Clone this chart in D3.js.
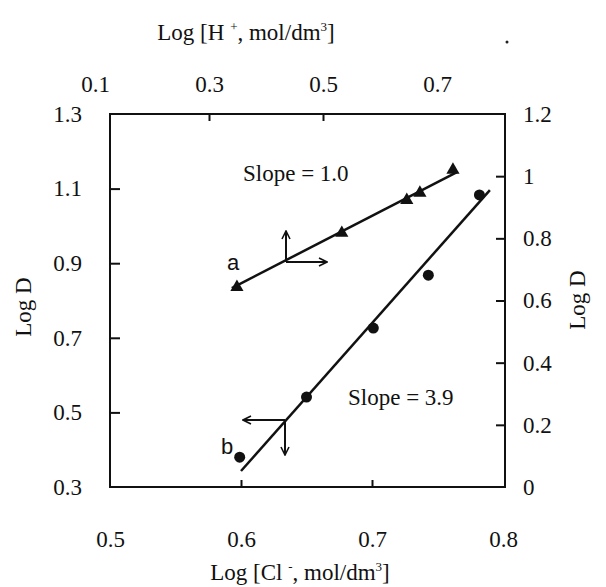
<!DOCTYPE html>
<html><head><meta charset="utf-8">
<script src="https://cdn.jsdelivr.net/npm/d3@7"></script>
<style>body{margin:0;background:#fff}svg{display:block}text{fill:#111}</style>
</head><body>
<svg id="c" width="606" height="587"></svg>
<script>
// Tick values / labels
const bottomTicks = [0.5, 0.6, 0.7, 0.8];
const topTicks = [0.1, 0.3, 0.5, 0.7];
const leftTicks = [0.3, 0.5, 0.7, 0.9, 1.1, 1.3];
const rightTicks = [0, 0.2, 0.4, 0.6, 0.8, 1, 1.2];
// Series a: x = Log[H+] (top axis), y = Log D (right axis)
const aX = [0.349, 0.533, 0.647, 0.670, 0.728];
const aY = [0.643, 0.817, 0.923, 0.946, 1.020];
const aFitX = [0.340, 0.735];
const aFitY = [0.640, 1.013];
// Series b: x = Log[Cl-] (bottom axis), y = Log D (left axis)
const bX = [0.599, 0.650, 0.701, 0.743, 0.782];
const bY = [0.380, 0.541, 0.726, 0.868, 1.083];
const bFitX = [0.600, 0.790];
const bFitY = [0.343, 1.096];

const SERIF = "'Liberation Serif','Times New Roman',serif";
const SANS = "'Liberation Sans',Arial,sans-serif";
const svg = d3.select("#c").style("font-family", SERIF);
const L = 110, R = 505, T = 114, B = 487;
const xB = d3.scaleLinear().domain([0.5, 0.8]).range([L, 503]);
const xT = d3.scaleLinear().domain([0.1, 0.7]).range([95, 437]);
const yL = d3.scaleLinear().domain([0.3, 1.3]).range([B, T]);
const yR = d3.scaleLinear().domain([0, 1.2]).range([B, T]);
const fmt = d => String(+d.toFixed(1));
const FS = 23;

function style(g, hide) {
  g.attr("font-family", null).attr("font-size", null);
  g.select(".domain").remove();
  g.selectAll("line").attr("stroke", "#111").attr("stroke-width", 2);
  g.selectAll("text").style("font-size", FS + "px").style("font-family", SERIF).attr("fill", "#111");
  if (hide) g.selectAll(".tick").filter(d => hide.includes(d)).select("line").remove();
}

const gB = svg.append("g").attr("transform", `translate(0,${B})`)
  .call(d3.axisBottom(xB).tickValues(bottomTicks).tickFormat(fmt).tickSize(-7).tickPadding(44));
style(gB, [0.5, 0.8]);
const gT = svg.append("g").attr("transform", `translate(0,${T})`)
  .call(d3.axisTop(xT).tickValues(topTicks).tickFormat(fmt).tickSize(-7).tickPadding(22));
style(gT, [0.1, 0.7]);
const gL = svg.append("g").attr("transform", `translate(${L},0)`)
  .call(d3.axisLeft(yL).tickValues(leftTicks).tickFormat(fmt).tickSize(-10).tickPadding(28));
style(gL, [0.3, 1.3]);
const gR = svg.append("g").attr("transform", `translate(${R},0)`)
  .call(d3.axisRight(yR).tickValues(rightTicks).tickFormat(fmt).tickSize(-9).tickPadding(18));
style(gR, [0, 1.2]);

svg.append("rect").attr("x", L).attr("y", T).attr("width", R - L).attr("height", B - T)
  .attr("fill", "none").attr("stroke", "#111").attr("stroke-width", 2);

// Axis titles
const tt = svg.append("text").attr("x", 246).attr("y", 40).attr("text-anchor", "middle").style("font-size", FS + "px");
tt.append("tspan").text("Log [H ");
tt.append("tspan").attr("dy", -9).style("font-size", "13px").text("+");
tt.append("tspan").attr("dy", 9).text(", mol/dm");
tt.append("tspan").attr("dy", -9).style("font-size", "13px").text("3");
tt.append("tspan").attr("dy", 9).text("]");

const bt = svg.append("text").attr("x", 300).attr("y", 580).attr("text-anchor", "middle").style("font-size", FS + "px");
bt.append("tspan").text("Log [Cl ");
bt.append("tspan").attr("dy", -9).style("font-size", "13px").text("-");
bt.append("tspan").attr("dy", 9).text(", mol/dm");
bt.append("tspan").attr("dy", -9).style("font-size", "13px").text("3");
bt.append("tspan").attr("dy", 9).text("]");

svg.append("text").attr("transform", "translate(31,307) rotate(-90)").attr("text-anchor", "middle").style("font-size", FS + "px").text("Log D");
svg.append("text").attr("transform", "translate(585,300) rotate(-90)").attr("text-anchor", "middle").style("font-size", FS + "px").text("Log D");
svg.append("circle").attr("cx", 507).attr("cy", 42).attr("r", 1.5).attr("fill", "#222");

// Fit lines
const lineA = d3.line().x(d => xT(d[0])).y(d => yR(d[1]));
const lineB = d3.line().x(d => xB(d[0])).y(d => yL(d[1]));
svg.append("path").attr("d", lineA(d3.zip(aFitX, aFitY))).attr("stroke", "#111").attr("stroke-width", 2.5).attr("fill", "none");
svg.append("path").attr("d", lineB(d3.zip(bFitX, bFitY))).attr("stroke", "#111").attr("stroke-width", 2.5).attr("fill", "none");

// Markers
const tri = d3.symbol().type(d3.symbolTriangle).size(75);
svg.selectAll(".ma").data(d3.zip(aX, aY)).join("path")
  .attr("transform", d => `translate(${xT(d[0])},${yR(d[1])})`).attr("d", tri).attr("fill", "#111");
svg.selectAll(".mb").data(d3.zip(bX, bY)).join("circle")
  .attr("cx", d => xB(d[0])).attr("cy", d => yL(d[1])).attr("r", 5.5).attr("fill", "#111");

// Arrows
const defs = svg.append("defs");
defs.append("marker").attr("id", "ah").attr("viewBox", "0 0 10 10").attr("refX", 9).attr("refY", 5)
  .attr("markerWidth", 10).attr("markerHeight", 10).attr("markerUnits", "userSpaceOnUse").attr("orient", "auto")
  .append("path").attr("d", "M1,1 L9,5 L1,9").attr("fill", "none").attr("stroke", "#111").attr("stroke-width", 1.6);
function arrow(x1, y1, x2, y2) {
  svg.append("line").attr("x1", x1).attr("y1", y1).attr("x2", x2).attr("y2", y2)
    .attr("stroke", "#111").attr("stroke-width", 2).attr("marker-end", "url(#ah)");
}
arrow(286, 262, 286, 231);
arrow(286, 262, 327, 262);
arrow(285, 420, 243, 420);
arrow(285, 420, 285, 455);

svg.append("text").attr("x", 233).attr("y", 270).attr("text-anchor", "middle").style("font-family", SANS).style("font-size", "22px").text("a");
svg.append("text").attr("x", 227).attr("y", 454).attr("text-anchor", "middle").style("font-family", SANS).style("font-size", "22px").text("b");
svg.append("text").attr("x", 243).attr("y", 181).style("font-size", FS + "px").text("Slope = 1.0");
svg.append("text").attr("x", 348).attr("y", 405).style("font-size", FS + "px").text("Slope = 3.9");
</script>
</body></html>
